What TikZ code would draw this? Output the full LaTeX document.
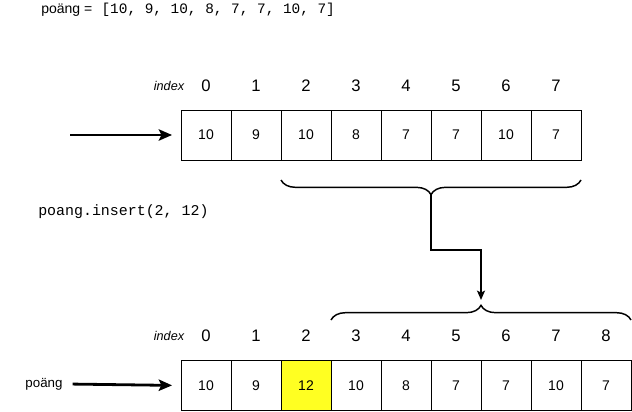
\documentclass[tikz,border=0pt]{standalone}
\usepackage{fontspec}
\setmainfont{Liberation Sans}
\setmonofont{Liberation Mono}
\usetikzlibrary{arrows.meta,decorations.pathreplacing}
\definecolor{hl}{HTML}{FFFF22}

\begin{document}
\begin{tikzpicture}[x=0.75pt, y=-0.75pt,
  cell/.style={draw, minimum width=37.5pt, minimum height=37.5pt, inner sep=0pt, font=\fontsize{10.5}{12}\selectfont},
  idx/.style={font=\fontsize{12.5}{14}\selectfont},
  idxlabel/.style={font=\fontsize{9.5}{11}\selectfont\itshape},
  ptr/.style={-{Stealth[length=10pt,width=8.5pt,inset=2pt]}, line width=2.1pt},
  move/.style={-{Stealth[length=7pt,width=6pt,inset=1.5pt]}, line width=1.1pt},
  brace/.style={decorate, decoration={brace, amplitude=11pt}, line width=1.1pt}]
\useasboundingbox (0,0) rectangle (632,411);

% ---- Customizable section
\def\cellw{50}   % cell width in px
\def\xzero{206}  % centre of cell 0
\def\ytop{135}   % row before insert
\def\ybot{385.5} % row after insert
% ---- End of customizable section

\node[anchor=west, inner sep=0pt] (title) at (41,10) {\fontsize{10.5}{12}\selectfont poäng =\hspace{7pt}\fontsize{10.8}{12}\selectfont\ttfamily [10, 9, 10, 8, 7, 7, 10, 7]};

% before
\node[idxlabel] (tindex) at (169,86) {index};
\foreach \v [count=\i from 0] in {10,9,10,8,7,7,10,7} {
  \node[cell] (c\i) at ({\xzero+\cellw*\i},\ytop) {\v};
  \node[idx] (ti\i) at ({\xzero+\cellw*\i},86) {\i};
}
\coordinate (tstart) at (70,\ytop);
\draw[ptr, shorten >=6.5pt] (tstart) -- (c0.west);

\node[anchor=west, inner sep=0pt] (code) at (38,212) {\fontsize{11.2}{12}\selectfont\ttfamily poang.insert(2, 12)};

% braces and the move
\coordinate (ta) at (581,180);
\coordinate (tb) at (281,180);
\draw[brace] (ta) -- (tb);
\coordinate (ttip) at (431,194.7);
\coordinate (ba) at (331,320);
\coordinate (bb) at (631,320);
\draw[brace] (ba) -- (bb);
\coordinate (btip) at (481,305.3);
\draw[move, shorten >=4pt] (ttip) -- ++(0,55.3) -| (btip);

% after
\node[idxlabel] (bindex) at (169,336) {index};
\foreach \v/\c [count=\i from 0] in {10/white,9/white,12/hl,10/white,8/white,7/white,7/white,10/white,7/white} {
  \node[cell, fill=\c] (d\i) at ({\xzero+\cellw*\i},\ybot) {\v};
  \node[idx] (bi\i) at ({\xzero+\cellw*\i},336) {\i};
}
\node[font=\fontsize{10}{11}\selectfont] (name) at (44,384) {poäng};
\draw[ptr, shorten <=4pt, shorten >=6.5pt] (name.east) -- (d0.west);
\end{tikzpicture}
\end{document}
